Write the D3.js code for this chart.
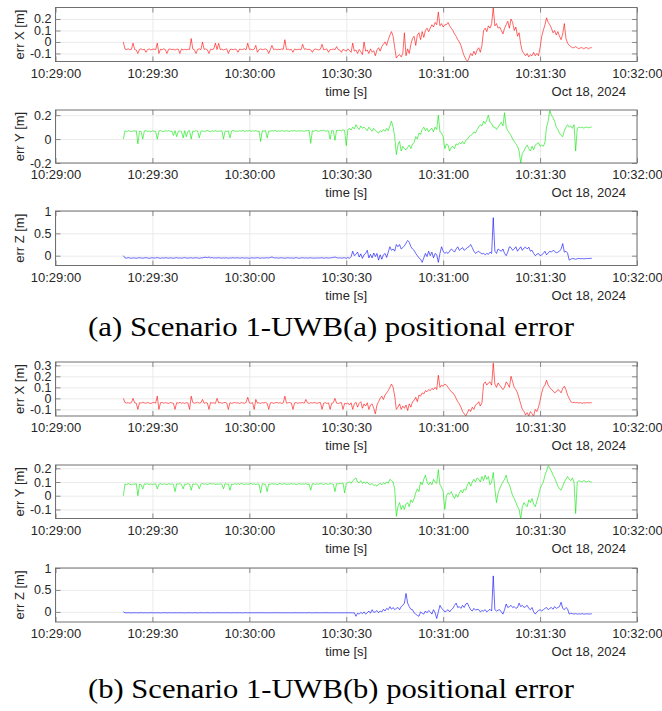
<!DOCTYPE html>
<html><head><meta charset="utf-8">
<script src="https://cdn.jsdelivr.net/npm/d3@7/dist/d3.min.js"></script>
<style>body{margin:0;background:#fff}svg{display:block}</style>
</head><body>
<svg id="chart" width="662" height="711"></svg>
<script>
// ---------------- DATA ----------------
const recordDate = "2024-10-18";
const firstSampleTime = "10:29:21.5";   // first sample
const sampleStepSeconds = 0.5;
const xTickLabels = ["10:29:00","10:29:30","10:30:00","10:30:30","10:31:00","10:31:30","10:32:00"];
const dateLabel = "Oct 18, 2024";
const xAxisTitle = "time [s]";
const captions = ["(a) Scenario 1-UWB(a) positional error", "(b) Scenario 1-UWB(b) positional error"];

const yTicksA_X = [-0.1, 0, 0.1, 0.2];
const yTicksA_Y = [-0.2, 0, 0.2];
const yTicksA_Z = [0, 0.5, 1];
const yTicksB_X = [-0.1, 0, 0.1, 0.2, 0.3];
const yTicksB_Y = [-0.1, 0, 0.1, 0.2];
const yTicksB_Z = [0, 0.5, 1];

// scenario (a) errors [m]
const errXa = [
0,-.062,-.066,-.06,-.068,-.064,-.01,-.066,-.07,-.1,
-.064,-.06,-.068,-.063,-.09,-.066,-.06,-.069,-.064,-.062,
-.067,-.01,-.1,-.063,-.068,-.06,-.066,-.1,-.064,-.061,
-.067,-.063,-.07,-.064,-.062,-.1,-.06,-.069,-.064,-.068,
-.063,-.066,.03,-.062,-.068,-.1,-.064,-.06,-.067,0,
-.065,-.061,-.068,-.1,-.063,-.066,-.06,-.01,-.066,-.012,
-.067,-.062,-.069,-.064,-.06,-.1,-.066,-.063,-.068,-.062,
-.066,-.09,-.061,-.067,-.064,-.06,-.068,-.01,-.065,-.062,
-.068,-.063,-.03,-.09,-.066,-.061,-.067,-.064,-.06,-.069,
-.1,-.064,-.03,-.066,-.062,-.068,-.063,-.067,-.06,-.065,
.02,-.066,-.062,-.069,-.064,-.09,-.061,-.067,-.065,-.063,
-.068,-.02,-.064,-.06,-.067,-.063,-.069,-.09,-.065,-.062,
-.066,-.07,-.063,-.02,-.068,-.064,-.061,-.09,-.067,-.065,
-.062,-.068,-.04,-.066,-.07,-.09,-.064,-.072,-.08,-.06,
-.075,-.09,-.01,-.08,-.07,-.1,-.065,-.085,-.11,0,
-.08,-.07,-.1,-.06,-.09,-.075,-.12,-.07,-.05,-.08,
-.04,-.02,0,-.03,.02,.06,.09,.05,-.05,-.14,
-.12,-.11,-.13,-.1,.08,-.12,-.06,-.1,-.02,.03,
.05,-.03,.06,.08,.02,.09,.04,.1,.12,.09,
.12,.15,.13,.17,.15,.26,.14,.16,.13,.15,
.15,.17,.14,.12,.1,.07,.05,.02,0,-.03,
-.08,-.12,-.15,-.17,-.14,-.1,-.12,-.08,-.11,-.07,
-.05,-.09,-.03,.1,.12,.09,.14,.12,.16,.3,
.14,.16,.12,.13,.1,.07,.12,.15,.18,.12,
.2,.17,.1,.13,.05,.08,-.02,-.08,-.1,-.12,
-.1,-.13,-.11,-.12,-.09,-.12,-.1,-.12,-.05,.05,
.1,.15,.21,.17,.15,.12,.08,.1,.06,.09,
.05,.02,.07,.16,.03,-.01,-.03,-.04,-.05,-.05,
-.04,-.05,-.06,-.05,-.05,-.06,-.05,-.05,-.06,-.05,
-.05];
const errYa = [
0,.068,.064,.07,.066,.062,.069,.065,.071,-.04,
.066,.063,0,.068,.07,.064,.067,.061,.069,.066,
.064,0,.068,.072,.065,.062,.069,.066,.071,.064,
.067,.03,.07,.02,.065,.068,.063,.01,.07,.02,
.066,.071,0,.068,.064,.07,.067,.01,.065,.069,
.063,.068,.072,.066,.061,.069,.065,.07,.064,.067,
.066,.07,0,.068,.063,.069,.01,.067,.072,.065,
.068,.064,.07,.066,.073,.062,.069,.067,.071,.065,
.069,.066,.072,.064,.068,-.02,.07,.066,.071,.01,
.068,.065,.071,.067,.073,.064,.069,.066,.07,.068,
.065,.071,.067,.063,.07,.068,.072,.065,.069,.066,
.07,.067,.064,.071,.068,.073,-.035,.069,.066,.072,
.068,.065,.071,.069,.074,.066,.07,.067,0,.072,
.069,-.01,.073,.07,.075,.068,.078,.072,-.055,.08,
.09,.075,.1,.085,.12,.095,.08,.11,.09,.1,
.085,.07,.1,.08,.065,.09,.075,.06,.05,.07,
.06,.08,.065,.09,.07,.11,.15,.1,.02,-.13,
-.05,-.02,-.1,-.06,-.08,-.09,-.07,-.05,-.08,-.04,
-.03,.02,0,.05,.04,.08,.1,.07,.09,.06,
.08,.09,.06,.1,.08,.2,.06,.05,.02,-.08,
-.04,-.05,-.1,-.07,-.06,-.08,-.04,-.05,-.03,-.04,
-.02,-.04,-.01,0,.02,.03,.04,.06,.05,.08,
.1,.12,.11,.15,.13,.16,.2,.14,.13,.1,
.1,.08,.1,.12,.14,.11,.22,.1,.07,.05,
.03,0,-.02,-.04,-.06,-.1,-.2,-.12,-.1,-.07,
-.05,-.08,-.1,-.06,-.09,-.05,-.04,-.03,-.06,-.05,
-.06,-.03,.1,.15,.24,.2,.18,.15,.1,.08,
.05,.03,.02,.07,.1,.12,.1,.11,.09,.12,
-.1,.09,.1,.095,.1,.092,.098,.1,.094,.1,
.1];
const errZa = [
0,-.05,-.055,-.045,-.05,-.06,-.048,-.052,-.058,-.05,
-.046,-.052,-.057,-.05,-.044,-.053,-.06,-.05,-.047,-.055,
-.05,-.043,-.052,-.058,-.049,-.054,-.046,-.05,-.056,-.048,
-.052,-.058,-.05,-.045,-.053,-.05,-.057,-.049,-.044,-.052,
-.055,-.05,-.047,-.056,-.051,-.045,-.053,-.058,-.05,-.048,
-.04,-.035,-.045,-.03,-.05,-.042,-.055,-.048,-.052,-.046,
-.05,-.056,-.049,-.053,-.047,-.058,-.05,-.052,-.045,-.054,
-.05,-.047,-.055,-.051,-.046,-.056,-.049,-.053,-.058,-.05,
-.048,-.054,-.05,-.045,-.052,-.057,-.049,-.054,-.05,-.046,
-.053,-.04,-.03,-.045,-.052,-.048,-.055,-.05,-.046,-.053,
-.057,-.05,-.047,-.054,-.049,-.056,-.051,-.045,-.052,-.058,
-.05,-.046,-.053,-.049,-.055,-.05,-.047,-.054,-.051,-.056,
-.049,-.053,-.05,-.046,-.055,-.051,-.048,-.054,-.05,-.047,
-.04,-.03,-.045,-.052,-.048,-.055,-.05,-.046,-.06,-.04,
-.06,-.02,.1,0,.03,.08,-.03,.04,-.06,.02,
.05,.12,-.05,.03,-.05,.06,-.02,.05,-.1,.02,
-.08,.02,.05,-.04,.08,.2,.12,.15,.1,.25,
.2,.25,.15,.18,.22,.28,.34,.3,.2,.15,
.12,.05,0,-.05,-.08,-.15,-.05,.05,-.02,.1,
0,.08,-.05,.05,.02,-.15,.05,.2,.1,.05,
.08,.05,.1,.15,.12,.08,.15,.2,.12,.15,
.18,.12,.15,.18,.2,.25,.18,.1,.05,.08,
.1,.06,.04,.05,.02,.05,.03,.08,.05,.85,
.1,.05,.15,.12,.1,.15,.05,0,.08,.2,
.18,.12,.15,.2,.1,.15,.2,.12,.17,.19,
.15,.19,.1,.12,.05,0,.03,.05,0,.02,
.05,.1,.02,.06,.1,.08,.12,.1,.06,.08,
.1,.15,.27,.08,.1,.06,-.1,-.08,-.06,-.07,
-.08,-.07,-.06,-.07,-.065,-.07,-.068,-.06,-.065,-.06,
-.06];

// scenario (b) errors [m]
const errXb = [
0,-.038,-.042,-.04,-.045,-.037,0,-.041,-.044,-.1,
-.039,-.043,-.036,-.041,-.045,-.038,-.042,-.047,-.04,-.037,
-.043,.02,-.1,-.04,-.036,-.044,-.039,-.042,-.046,-.038,
-.041,-.045,-.1,-.039,-.043,-.037,-.044,-.04,-.046,-.039,
-.042,-.1,.02,-.038,-.044,-.041,-.036,-.043,-.04,-.01,
-.045,-.039,-.042,-.1,-.037,-.043,-.04,-.046,0,-.041,
-.038,-.044,-.04,-.036,-.043,-.1,-.039,-.045,-.041,-.037,
-.043,-.04,-.046,-.038,-.042,-.044,-.037,.01,-.041,-.045,
-.039,-.1,-.01,-.043,-.04,-.046,-.038,-.042,-.036,-.044,
-.1,-.041,-.038,-.045,-.04,-.037,-.043,-.039,-.046,-.041,
.02,-.044,-.04,-.037,-.043,-.1,-.041,-.038,-.045,-.04,
-.042,-.038,-.044,-.01,-.04,-.046,-.039,-.043,-.037,-.041,
-.045,-.04,-.038,-.1,-.043,-.039,-.046,-.041,-.1,-.044,
-.04,0,-.043,-.047,-.041,-.038,-.1,-.045,-.05,-.042,
-.06,-.04,-.1,-.05,-.035,-.08,-.045,-.03,-.09,-.05,
-.07,-.04,-.1,-.06,-.05,-.09,-.14,-.06,-.03,0,
.02,-.01,.03,.05,.07,.1,.13,.1,.02,-.1,
-.08,-.05,-.1,-.07,-.09,-.06,-.11,-.05,-.08,-.03,
-.02,.01,-.03,.03,.02,.05,.04,.07,.06,.08,
.07,.09,.08,.1,.08,.21,.1,.12,.11,.13,
.12,.1,.08,.06,.05,.03,0,-.03,-.05,-.08,
-.12,-.14,-.16,-.13,-.1,-.12,-.08,-.1,-.06,-.05,
-.03,-.07,-.04,.13,.15,.12,.14,.15,.12,.32,
.13,.1,.14,.12,.1,.08,.1,.15,.13,.1,
.2,.15,.1,.08,.05,0,-.05,-.1,-.12,-.15,
-.13,-.16,-.12,-.14,-.16,-.1,-.12,-.08,-.02,.05,
.1,.12,.165,.12,.1,.08,.07,.05,.06,.08,
.07,.05,.09,.11,.08,.03,0,-.03,-.04,-.035,
-.04,-.038,-.042,-.04,-.045,-.04,-.043,-.038,-.041,-.04,
-.04];
const errYb = [
0,.085,.082,.088,.084,.079,.086,.083,.089,0,
.084,.081,.05,.087,.083,.088,.08,.086,.082,.085,
.087,.05,.083,.089,.081,.086,.084,.08,.088,.083,
.086,.082,.03,.087,.084,.089,.081,.05,.085,.083,
.088,.084,.04,.086,.082,.087,.08,.05,.085,.089,
.083,.087,.081,.086,.09,.084,.088,.082,.086,.083,
.087,.084,.05,.089,.083,.086,.04,.085,.081,.088,
.084,.087,.082,.09,.085,.081,.088,.083,.086,.089,
.083,.087,.081,.086,.084,.02,.088,.085,.082,.03,
.086,.083,.089,.084,.087,.081,.085,.09,.083,.086,
.088,.082,.086,.084,.089,.083,.087,.08,.085,.088,
.083,.087,.084,.089,.082,.086,.04,.088,.085,.083,
.087,.084,.09,.086,.082,.088,.085,.083,.089,.086,
.084,.03,.088,.085,.09,.087,.093,.02,.09,.095,
.1,.09,.11,.12,.13,.1,.095,.11,.09,.1,
.09,.1,.085,.08,.09,.075,.08,.07,.085,.09,
.08,.095,.085,.1,.09,.12,.11,.1,.05,-.15,
-.08,-.05,-.1,-.07,-.1,-.06,-.05,-.08,-.03,-.05,
-.02,.02,.05,.03,.1,.08,.12,.15,.1,.08,
.1,.08,.12,.1,.09,.19,.08,.06,.03,-.1,
0,.02,.01,.03,0,-.02,.01,-.01,.02,.04,
.02,.05,.04,.08,.1,.07,.1,.12,.1,.13,
.12,.1,.14,.11,.15,.12,.14,.08,.1,.17,
.05,-.05,.02,.05,.08,.1,.12,.15,.1,.08,
.04,0,-.02,-.05,-.08,-.1,-.17,-.08,-.05,-.07,
-.08,-.03,-.05,-.02,-.06,-.08,-.04,0,.05,.08,
.1,.15,.18,.22,.2,.18,.15,.13,.1,.07,
.05,.04,.07,.1,.12,.14,.12,.11,.13,.1,
-.13,.1,.11,.105,.1,.11,.105,.1,.108,.1,
.1];
const errZb = [
0,-.02,-.022,-.018,-.02,-.024,-.019,-.021,-.02,-.023,
-.02,-.018,-.022,-.021,-.019,-.023,-.02,-.018,-.021,-.02,
-.022,-.019,-.02,-.024,-.021,-.018,-.02,-.022,-.019,-.021,
-.02,-.023,-.019,-.021,-.02,-.018,-.022,-.02,-.024,-.021,
-.019,-.021,-.02,-.022,-.018,-.02,-.023,-.021,-.019,-.02,
-.022,-.02,-.018,-.021,-.023,-.019,-.02,-.022,-.02,-.018,
-.021,-.019,-.022,-.02,-.018,-.021,-.02,-.023,-.019,-.02,
-.022,-.02,-.019,-.021,-.023,-.02,-.018,-.021,-.02,-.022,
-.019,-.021,-.02,-.022,-.018,-.02,-.021,-.019,-.023,-.02,
-.021,-.02,-.022,-.019,-.021,-.018,-.02,-.022,-.02,-.021,
-.019,-.022,-.02,-.021,-.023,-.02,-.019,-.021,-.02,-.022,
-.02,-.021,-.019,-.022,-.02,-.018,-.021,-.023,-.02,-.019,
-.021,-.02,-.022,-.019,-.021,-.02,-.018,-.022,-.02,-.021,
-.02,-.022,-.019,-.021,-.02,-.022,-.02,-.021,-.019,-.02,
-.021,-.02,-.022,-.02,-.1,-.03,-.05,-.01,-.04,0,
-.05,-.02,.02,-.03,.05,-.01,0,.03,-.02,.02,
0,.06,.02,.08,.05,.12,.06,.1,.05,.08,
.1,.05,.12,.15,.2,.42,.2,.12,.06,.05,
-.02,-.05,-.08,-.1,0,-.03,-.05,.02,-.02,.03,
0,-.05,.05,-.02,-.15,0,.15,.08,.05,0,
.02,.05,0,.05,.08,.15,.2,.1,.12,.08,
.15,.1,.18,.2,.12,.05,.02,.08,.04,.06,
.05,0,.03,.02,.05,0,.03,.06,.02,.82,
.05,.02,.04,.05,0,-.05,.05,.18,.1,.12,
.15,.1,.12,.08,.1,.2,.12,.15,.1,.12,
.15,.08,.05,.1,0,-.05,0,.03,.05,.02,
.05,.08,.1,.05,.08,.1,.06,.12,.08,.1,
.12,.22,.08,.05,.1,.07,-.05,-.03,-.04,-.05,
-.04,-.05,-.045,-.05,-.04,-.05,-.048,-.042,-.05,-.045,
-.045];

// ---------------- DRAW ----------------
const svg = d3.select("#chart");
const parseT = d3.timeParse("%Y-%m-%d %H:%M:%S.%L");
const parseTick = d3.timeParse("%Y-%m-%d %H:%M:%S");
const t0 = parseT(recordDate + " " + firstSampleTime);
const sampleTime = i => new Date(t0.getTime() + i * sampleStepSeconds * 1000);
const xTicks = xTickLabels.map(s => parseTick(recordDate + " " + s));

const L = 55.5, R = 637;
const x = d3.scaleTime().domain([xTicks[0], xTicks[xTicks.length - 1]]).range([L, R]);

const panels = [
  {data: errXa, color: "#ff0000", label: "err X [m]", domain: [-0.17, 0.3], ticks: yTicksA_X, top: 7.5, bottom: 61.5},
  {data: errYa, color: "#00e600", label: "err Y [m]", domain: [-0.2, 0.243], ticks: yTicksA_Y, top: 110, bottom: 163},
  {data: errZa, color: "#0000ff", label: "err Z [m]", domain: [-0.22, 1.0], ticks: yTicksA_Z, top: 211, bottom: 265.5},
  {data: errXb, color: "#ff0000", label: "err X [m]", domain: [-0.16, 0.33], ticks: yTicksB_X, top: 362, bottom: 416},
  {data: errYb, color: "#00e600", label: "err Y [m]", domain: [-0.166, 0.224], ticks: yTicksB_Y, top: 465, bottom: 518.5},
  {data: errZb, color: "#0000ff", label: "err Z [m]", domain: [-0.23, 1.0], ticks: yTicksB_Z, top: 568, bottom: 622}
];

const FONT = "'Liberation Sans', Arial, Helvetica, sans-serif";
const TXT = "#262626";
const fmtY = d => String(+d.toFixed(2));
const fmtX = d3.timeFormat("%H:%M:%S");

panels.forEach((p, k) => {
  const y = d3.scaleLinear().domain(p.domain).range([p.bottom, p.top]);
  const g = svg.append("g");
  const H = p.bottom - p.top, W = R - L;

  // grid
  g.append("g").attr("transform", `translate(0,${p.bottom})`)
    .call(d3.axisBottom(x).tickValues(xTicks).tickSize(-H).tickFormat(""))
    .call(a => { a.select(".domain").remove(); a.selectAll("line").attr("stroke", "#e6e6e6").attr("stroke-width", 0.8); });
  g.append("g").attr("transform", `translate(${L},0)`)
    .call(d3.axisLeft(y).tickValues(p.ticks).tickSize(-W).tickFormat(""))
    .call(a => { a.select(".domain").remove(); a.selectAll("line").attr("stroke", "#e6e6e6").attr("stroke-width", 0.8); });

  // data line
  const cid = "clip" + k;
  g.append("clipPath").attr("id", cid).append("rect")
    .attr("x", L).attr("y", p.top).attr("width", W).attr("height", H);
  g.append("path").datum(p.data)
    .attr("clip-path", `url(#${cid})`)
    .attr("fill", "none").attr("stroke", p.color).attr("stroke-width", 0.6)
    .attr("stroke-linejoin", "round")
    .attr("d", d3.line().x((d, i) => x(sampleTime(i))).y(d => y(d)));

  // axes with inward ticks
  const axX = g.append("g").attr("transform", `translate(0,${p.bottom})`)
    .call(d3.axisBottom(x).tickValues(xTicks).tickFormat(fmtX).tickSizeInner(-5).tickSizeOuter(0).tickPadding(7));
  const axT = g.append("g").attr("transform", `translate(0,${p.top})`)
    .call(d3.axisTop(x).tickValues(xTicks).tickFormat("").tickSizeInner(-5).tickSizeOuter(0));
  const axY = g.append("g").attr("transform", `translate(${L},0)`)
    .call(d3.axisLeft(y).tickValues(p.ticks).tickFormat(fmtY).tickSizeInner(-5).tickSizeOuter(0).tickPadding(4));
  const axR = g.append("g").attr("transform", `translate(${R},0)`)
    .call(d3.axisRight(y).tickValues(p.ticks).tickFormat("").tickSizeInner(-5).tickSizeOuter(0));
  [axX, axT, axY, axR].forEach(a => {
    a.select(".domain").remove();
    a.selectAll("line").attr("stroke", "#6e6e6e").attr("stroke-width", 0.8);
    a.selectAll("text").attr("fill", TXT).style("font-family", FONT).style("font-size", "13px");
  });
  axY.selectAll("text").style("font-size", "12.5px");

  // box
  g.append("rect").attr("x", L).attr("y", p.top).attr("width", W).attr("height", H)
    .attr("fill", "none").attr("stroke", "#707070").attr("stroke-width", 1);

  // y label
  g.append("text")
    .attr("transform", `translate(19,${(p.top + p.bottom) / 2}) rotate(-90)`)
    .attr("text-anchor", "middle").attr("dominant-baseline", "central")
    .attr("fill", TXT).style("font-family", FONT).style("font-size", "13px")
    .text(p.label);

  // x title + date
  g.append("text").attr("x", (L + R) / 2).attr("y", p.bottom + 34)
    .attr("text-anchor", "middle").attr("fill", TXT)
    .style("font-family", FONT).style("font-size", "13px").text(xAxisTitle);
  g.append("text").attr("x", 626).attr("y", p.bottom + 34)
    .attr("text-anchor", "end").attr("fill", TXT)
    .style("font-family", FONT).style("font-size", "13px").text(dateLabel);
});

// captions
[327, 689].forEach((cy, i) => {
  svg.append("text").attr("x", 331).attr("y", cy)
    .attr("text-anchor", "middle").attr("dominant-baseline", "central")
    .attr("fill", "#000")
    .attr("textLength", 486).attr("lengthAdjust", "spacingAndGlyphs")
    .style("font-family", "'Liberation Serif', 'DejaVu Serif', serif").style("font-size", "27px")
    .text(captions[i]);
});
</script>
</body></html>
